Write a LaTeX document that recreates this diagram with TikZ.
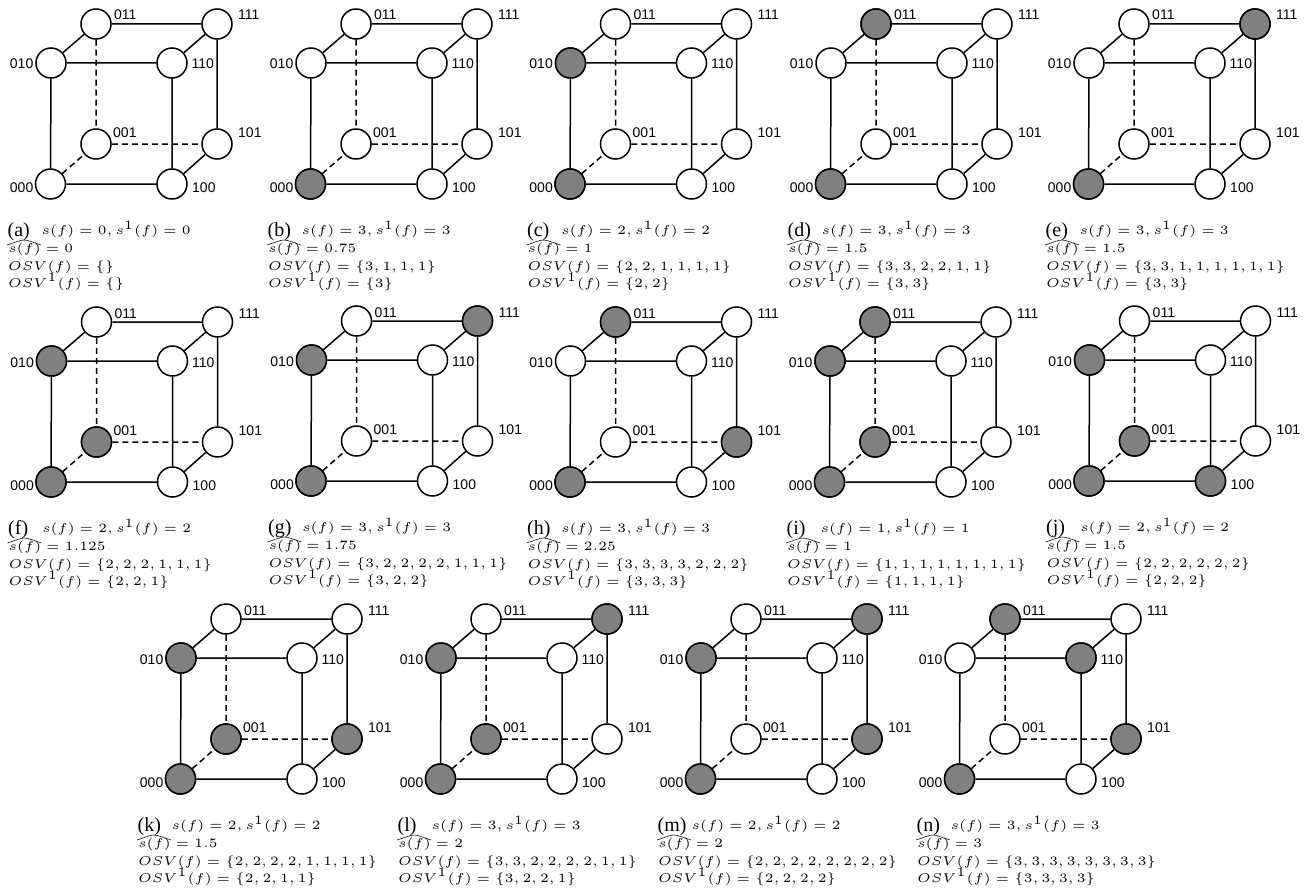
\documentclass[tikz,border=0pt]{standalone}
\usepackage{fontspec}
\usepackage{amsmath}
\setmainfont{Liberation Serif}
\newfontfamily\lblfont{Liberation Sans}
\tikzset{x=1pt,y=-1pt,
 vertex/.style={circle,draw=black,line width=1.5pt,fill=white,minimum size=30pt,inner sep=0pt},
 onvertex/.style={vertex,fill=black!50},
 edgeline/.style={draw=black,line width=1.5pt},
 hiddenline/.style={edgeline,dash pattern=on 6pt off 4pt},
 hatcurve/.style={draw=black,line width=0.55pt},
 vlabel/.style={font=\lblfont\fontsize{14}{14}\selectfont,inner sep=0pt},
 capline/.style={anchor=base west,inner sep=0pt,scale=2.56,font=\tiny},
 captag/.style={anchor=base west,inner sep=0pt,font=\fontsize{20}{20}\selectfont}}
\newcommand{\cubefig}[9]{%
 \begin{scope}[shift={(#2,#3)}]
 \foreach \nm/\px/\py in {n000/50.5/184,n100/172/184,n010/51/63,n110/172/63,n011/96/24,n111/217/24,n001/96/144,n101/217/144}{
   \node[vertex] (#1\nm) at (\px,\py) {};
 }
 \draw[edgeline] (#1n000)--(#1n100) (#1n000)--(#1n010) (#1n100)--(#1n110) (#1n010)--(#1n110)
   (#1n010)--(#1n011) (#1n110)--(#1n111) (#1n011)--(#1n111) (#1n111)--(#1n101) (#1n100)--(#1n101);
 \draw[hiddenline] (#1n000)--(#1n001) (#1n011)--(#1n001) (#1n001)--(#1n101);
 \foreach \nm in {#4}{\node[onvertex] at (#1\nm) {};}
 \node[vlabel,anchor=base west] (#1l011) at (114,20) {011};
 \node[vlabel,anchor=base west] (#1l111) at (238,20) {111};
 \node[vlabel,anchor=base east] (#1l010) at (33.5,69) {010};
 \node[vlabel,anchor=base west] (#1l110) at (191.5,69) {110};
 \node[vlabel,anchor=base west] (#1l001) at (113,137) {001};
 \node[vlabel,anchor=base west] (#1l101) at (238,137) {101};
 \node[vlabel,anchor=base east] (#1l000) at (33.5,192) {000};
 \node[vlabel,anchor=base west] (#1l100) at (192,192) {100};
 \node[captag] (#1tag) at (7.5,236) {(#5)};
 \node[capline] (#1c1) at (41,234.5) {$s(f)=#6,s^1(f)=#6$};
 \node[capline] (#1c2) at (7.5,252.5) {$s(f)=#7$};
 \draw[hatcurve] (7,245) .. controls (15,242.5) and (20,240) .. (24,240) .. controls (28,240) and (33,242.5) .. (41,245);
 \node[capline] (#1c3) at (7.5,270) {$OSV(f)=\{#8\}$};
 \node[capline] (#1c4) at (7.5,287) {$OSV^1(f)=\{#9\}$};
 \end{scope}}
\begin{document}
\begin{tikzpicture}
\useasboundingbox (0,0) rectangle (1313,888);
\cubefig{a}{0}{0}{}{a}{0}{0}{}{}
\cubefig{b}{260}{0}{n000}{b}{3}{0.75}{3,1,1,1}{3}
\cubefig{c}{519.5}{0}{n000,n010}{c}{2}{1}{2,2,1,1,1,1}{2,2}
\cubefig{d}{780}{0}{n000,n011}{d}{3}{1.5}{3,3,2,2,1,1}{3,3}
\cubefig{e}{1038}{0}{n000,n111}{e}{3}{1.5}{3,3,1,1,1,1,1,1}{3,3}
\cubefig{f}{0.5}{298}{n000,n010,n001}{f}{2}{1.125}{2,2,2,1,1,1}{2,2,1}
\cubefig{g}{260.5}{297}{n000,n010,n111}{g}{3}{1.75}{3,2,2,2,2,1,1,1}{3,2,2}
\cubefig{h}{519.5}{298}{n000,n011,n101}{h}{3}{2.25}{3,3,3,3,2,2,2}{3,3,3}
\cubefig{i}{779}{298}{n000,n010,n011,n001}{i}{1}{1}{1,1,1,1,1,1,1,1}{1,1,1,1}
\cubefig{j}{1038.5}{297}{n000,n010,n001,n100}{j}{2}{1.5}{2,2,2,2,2,2}{2,2,2}
\cubefig{k}{130}{595}{n000,n010,n001,n101}{k}{2}{1.5}{2,2,2,2,1,1,1,1}{2,2,1,1}
\cubefig{l}{390}{595}{n000,n010,n001,n111}{l}{3}{2}{3,3,2,2,2,2,1,1}{3,2,2,1}
\cubefig{m}{650}{595}{n000,n010,n101,n111}{m}{2}{2}{2,2,2,2,2,2,2,2}{2,2,2,2}
\cubefig{n}{909}{595}{n000,n011,n110,n101}{n}{3}{3}{3,3,3,3,3,3,3,3}{3,3,3,3}
\end{tikzpicture}
\end{document}
